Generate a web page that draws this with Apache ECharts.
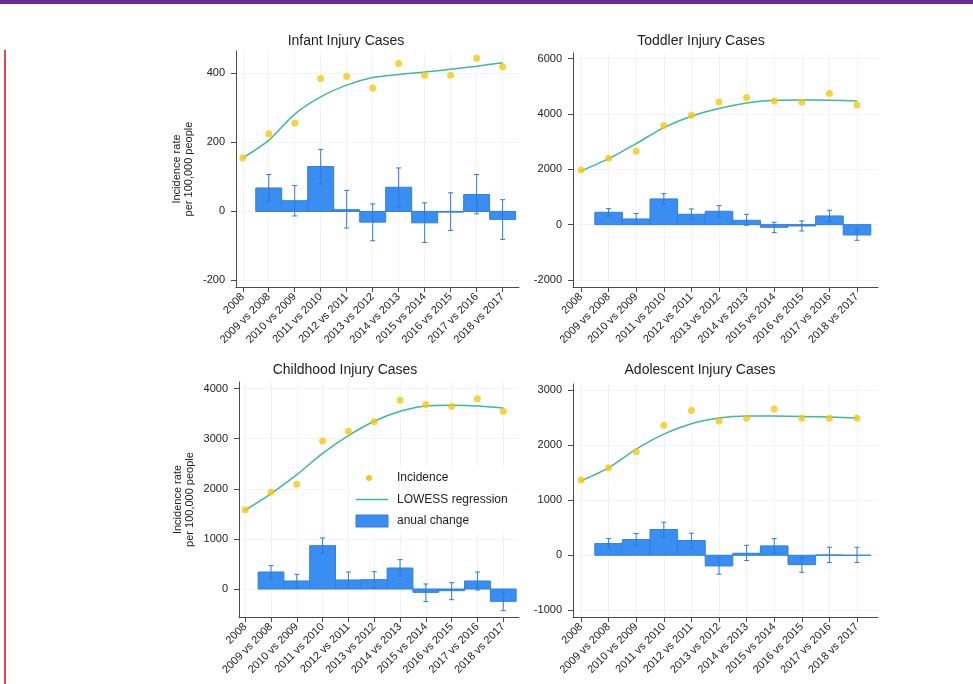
<!DOCTYPE html>
<html>
<head>
<meta charset="utf-8">
<script src="https://cdn.jsdelivr.net/npm/echarts@6/dist/echarts.min.js"></script>
<style>
html,body{margin:0;padding:0;background:#fff;}
#chart{width:973px;height:684px;}
</style>
</head>
<body>
<div id="chart"></div>
<script>
const categories = ['2008','2009 vs 2008','2010 vs 2009','2011 vs 2010','2012 vs 2011','2013 vs 2012','2014 vs 2013','2015 vs 2014','2016 vs 2015','2017 vs 2016','2018 vs 2017'];

const panelTitles = ['Infant Injury Cases','Toddler Injury Cases','Childhood Injury Cases','Adolescent Injury Cases'];

const infantIncidence = [155,225,256,385,391,358,429,395,395,444,419];
const infantLowess    = [155,206,282,332,366,388,397,404,412,421,431];
const infantChange    = [68,31,130,5,-31,70,-33,-2,49,-23];
const infantLow       = [29,-13,80,-48,-85,13,-90,-55,-7,-81];
const infantHigh      = [107,75,180,61,22,126,25,54,107,34];

const toddlerIncidence = [1976,2398,2651,3578,3952,4434,4590,4470,4422,4735,4325];
const toddlerLowess    = [1940,2386,2928,3506,3916,4193,4398,4494,4506,4494,4470];
const toddlerChange    = [446,205,928,373,482,157,-96,-48,313,-373];
const toddlerLow       = [314,10,736,180,280,-24,-289,-229,96,-566];
const toddlerHigh      = [578,400,1120,566,687,373,84,133,518,-181];

const childhoodIncidence = [1584,1930,2090,2955,3148,3341,3767,3681,3641,3800,3547];
const childhoodLowess    = [1571,1903,2283,2709,3062,3348,3547,3654,3667,3654,3614];
const childhoodChange    = [339,160,865,180,186,419,-67,-33,160,-246];
const childhoodLow       = [212,27,712,21,26,252,-253,-213,-20,-433];
const childhoodHigh      = [466,293,1018,339,346,586,100,126,339,-67];

const adolescentIncidence = [1364,1588,1879,2358,2630,2436,2485,2655,2485,2485,2485];
const adolescentLowess    = [1352,1588,1927,2200,2388,2491,2527,2527,2521,2509,2491];
const adolescentChange    = [212,285,467,267,-194,36,170,-170,6,0];
const adolescentLow       = [121,176,333,133,-345,-97,36,-310,-133,-133];
const adolescentHigh      = [303,394,600,400,-42,182,303,-36,145,145];

const yTicks = [
  [-200,0,200,400],
  [-2000,0,2000,4000,6000],
  [0,1000,2000,3000,4000],
  [-1000,0,1000,2000,3000]
];

const panels = [
  {inc: infantIncidence, low: infantLowess, chg: infantChange, lo: infantLow, hi: infantHigh},
  {inc: toddlerIncidence, low: toddlerLowess, chg: toddlerChange, lo: toddlerLow, hi: toddlerHigh},
  {inc: childhoodIncidence, low: childhoodLowess, chg: childhoodChange, lo: childhoodLow, hi: childhoodHigh},
  {inc: adolescentIncidence, low: adolescentLowess, chg: adolescentChange, lo: adolescentLow, hi: adolescentHigh}
];

// layout (pixels) and axis extents
const layout = [
  {left:236, top:51,  width:283, height:236, xmin:-0.26, xmax:10.63, ymin:-219, ymax:465,  ytitle:true, gap:41, tx:346, ty:41},
  {left:573, top:53,  width:305, height:234, xmin:-0.29, xmax:10.76, ymin:-2253, ymax:6200, ytitle:false, gap:0, tx:701, ty:41},
  {left:239, top:382, width:280, height:235, xmin:-0.24, xmax:10.61, ymin:-559, ymax:4132, ytitle:true, gap:43, tx:345, ty:370},
  {left:573, top:384, width:305, height:233, xmin:-0.29, xmax:10.76, ymin:-1121, ymax:3109, ytitle:false, gap:0, tx:700, ty:370}
];

const BAR = '#3a8ef2';
const BAR_EDGE = '#2f7fe3';
const ERR = '#2b79dc';
const PT = '#f4c80f';
const LINE = '#3dba97';
const AXIS = '#4a4a4a';
const FONT = 'Liberation Sans, Arial, Helvetica, sans-serif';

const catIdx = categories.map((c, i) => i);

const grids = [], xAxes = [], yAxes = [], series = [], graphics = [];

layout.forEach((L, p) => {
  grids.push({left: L.left, top: L.top, width: L.width, height: L.height, containLabel: false});
  xAxes.push({
    type: 'value', gridIndex: p, min: L.xmin, max: L.xmax,
    axisLine: {show: true, onZero: false, lineStyle: {color: AXIS, width: 1}},
    axisTick: {show: true, length: 5, customValues: catIdx, lineStyle: {color: AXIS}},
    axisLabel: {customValues: catIdx, rotate: 45, fontSize: 11, color: '#222', fontFamily: FONT, margin: 8,
      formatter: v => categories[Math.round(v)]},
    splitLine: {show: true, lineStyle: {color: '#f3f3f3', width: 1}}
  });
  yAxes.push({
    type: 'value', gridIndex: p, min: L.ymin, max: L.ymax,
    name: L.ytitle ? 'Incidence rate\nper 100,000 people' : '',
    nameLocation: 'middle', nameRotate: 90, nameGap: L.gap,
    nameTextStyle: {fontSize: 11, color: '#222', fontFamily: FONT, lineHeight: 12},
    axisLine: {show: true, onZero: false, lineStyle: {color: AXIS, width: 1}},
    axisTick: {show: true, length: 5, customValues: yTicks[p], lineStyle: {color: AXIS}},
    axisLabel: {customValues: yTicks[p], fontSize: 11, color: '#222', fontFamily: FONT, margin: 11,
      formatter: v => String(v)},
    splitLine: {show: true, lineStyle: {color: '#f3f3f3', width: 1}}
  });

  const P = panels[p];
  // annual change bars
  series.push({
    type: 'custom', xAxisIndex: p, yAxisIndex: p, z: 2,
    data: P.chg.map((v, i) => [i + 1, v]),
    renderItem: (params, api) => {
      const x = api.value(0), v = api.value(1);
      const a = api.coord([x - 0.5, Math.max(v, 0)]);
      const b = api.coord([x + 0.5, Math.min(v, 0)]);
      return {type: 'rect', shape: {x: a[0], y: a[1], width: b[0] - a[0], height: Math.max(b[1] - a[1], 0)},
        style: {fill: BAR, stroke: BAR_EDGE, lineWidth: 1}};
    }
  });
  // error bars
  series.push({
    type: 'custom', xAxisIndex: p, yAxisIndex: p, z: 3,
    data: P.lo.map((v, i) => [i + 1, v, P.hi[i]]),
    renderItem: (params, api) => {
      const x = api.value(0);
      const lo = api.coord([x, api.value(1)]);
      const hi = api.coord([x, api.value(2)]);
      const c = 2.5;
      const st = {stroke: ERR, lineWidth: 1};
      return {type: 'group', children: [
        {type: 'line', shape: {x1: lo[0], y1: lo[1], x2: hi[0], y2: hi[1]}, style: st},
        {type: 'line', shape: {x1: lo[0] - c, y1: lo[1], x2: lo[0] + c, y2: lo[1]}, style: st},
        {type: 'line', shape: {x1: hi[0] - c, y1: hi[1], x2: hi[0] + c, y2: hi[1]}, style: st}
      ]};
    }
  });
  // LOWESS
  series.push({
    type: 'line', xAxisIndex: p, yAxisIndex: p, z: 4, name: 'LOWESS regression',
    data: P.low.map((v, i) => [i, v]), showSymbol: false, symbol: 'none', smooth: 0.25,
    lineStyle: {color: LINE, width: 1.5}, silent: true
  });
  // incidence
  series.push({
    type: 'scatter', xAxisIndex: p, yAxisIndex: p, z: 5, name: 'Incidence',
    data: P.inc.map((v, i) => [i, v]), symbol: 'circle', symbolSize: 7,
    itemStyle: {color: PT}
  });

  graphics.push({type: 'text', x: L.tx, y: L.ty, z: 100,
    style: {text: panelTitles[p], textAlign: 'center', textVerticalAlign: 'middle',
      font: '14px ' + FONT, fill: '#222'}});
});

// legend inside the childhood panel
graphics.push(
  {type: 'rect', z: 99, shape: {x: 350, y: 468, width: 165, height: 64}, style: {fill: '#ffffff'}},
  {type: 'circle', z: 100, shape: {cx: 369, cy: 478, r: 3}, style: {fill: PT}},
  {type: 'text', z: 100, x: 397, y: 478, style: {text: 'Incidence', textVerticalAlign: 'middle', font: '12px ' + FONT, fill: '#222'}},
  {type: 'line', z: 100, shape: {x1: 356, y1: 499.5, x2: 388, y2: 499.5}, style: {stroke: LINE, lineWidth: 1.5}},
  {type: 'text', z: 100, x: 397, y: 499.5, style: {text: 'LOWESS regression', textVerticalAlign: 'middle', font: '12px ' + FONT, fill: '#222'}},
  {type: 'rect', z: 100, shape: {x: 356, y: 515, width: 32, height: 12}, style: {fill: BAR, stroke: BAR_EDGE, lineWidth: 1}},
  {type: 'text', z: 100, x: 397, y: 521, style: {text: 'anual change', textVerticalAlign: 'middle', font: '12px ' + FONT, fill: '#222'}}
);
// page framing: purple strip on top, red rule on the left
graphics.push(
  {type: 'rect', z: 100, shape: {x: 0, y: 0, width: 973, height: 4}, style: {fill: '#6b2d8f'}},
  {type: 'rect', z: 100, shape: {x: 4, y: 50, width: 2, height: 634}, style: {fill: '#e0474c'}}
);

const chart = echarts.init(document.getElementById('chart'), null, {renderer: 'canvas'});
chart.setOption({
  backgroundColor: '#ffffff',
  animation: false,
  grid: grids,
  xAxis: xAxes,
  yAxis: yAxes,
  series: series,
  graphic: graphics
});
</script>
</body>
</html>
